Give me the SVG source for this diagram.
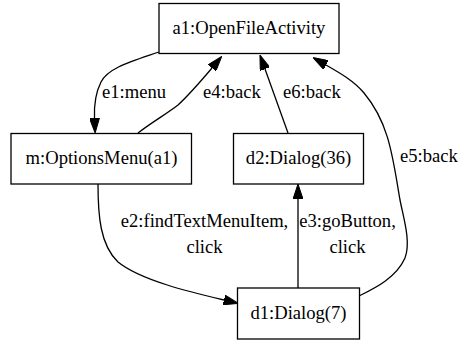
<svg xmlns="http://www.w3.org/2000/svg" width="461" height="343" viewBox="0 0 461 343" font-family="'Liberation Serif', 'DejaVu Serif', serif">
  <defs>
    <style>
      .node rect { fill: #fff; stroke: #000; stroke-width: 1.3; }
      text { font-family: 'Liberation Serif', 'DejaVu Serif', serif; font-size: 18.6px; fill: #000; }
      .node text { text-anchor: middle; }
      .edges path { fill: none; stroke: #000; stroke-width: 1.3; }
      .edges .mid { text-anchor: middle; }
    </style>
    <marker id="arrow" viewBox="0 -5 15 10" refX="0" refY="0" markerWidth="15" markerHeight="10" markerUnits="userSpaceOnUse" orient="auto">
      <path d="M0,-5 L15,0 L0,5 z" fill="#000" stroke="#000" stroke-width="1"/>
    </marker>
  </defs>
  <rect width="461" height="343" fill="#fff"/>

  <g class="edges">
    <!-- e1: a1 -> m -->
    <path d="M159,52 C130,62 108,68 101,82 C95,94 94,106 94.5,118" marker-end="url(#arrow)"/>
    <text x="102" y="98">e1:menu</text>
    <!-- e4: m -> a1 -->
    <path d="M138,133 C152,122 168,113 178,105 C190,94 201,81 212,68" marker-end="url(#arrow)"/>
    <text x="203" y="98">e4:back</text>
    <!-- e6: d2 -> a1 -->
    <path d="M288,133 L265,69" marker-end="url(#arrow)"/>
    <text x="283" y="98">e6:back</text>
    <!-- e5: d1 -> a1 -->
    <path d="M359,296 C375,288 396,278 405,258 C411,242 404,220 400,200 C393,160 390,124 364,93 C354,81 340,73 326,65" marker-end="url(#arrow)"/>
    <text x="400" y="162">e5:back</text>
    <!-- e2: m -> d1 -->
    <path d="M98,184 C98,215 100,245 118,262 C140,280 190,292 224,300" marker-end="url(#arrow)"/>
    <text class="mid" x="204.5" y="227">e2:findTextMenuItem,</text>
    <text class="mid" x="204.5" y="253">click</text>
    <!-- e3: d1 -> d2 -->
    <path d="M298,288 L298,199" marker-end="url(#arrow)"/>
    <text class="mid" x="347.5" y="227">e3:goButton,</text>
    <text class="mid" x="347.5" y="253">click</text>
  </g>

  <g id="a1" class="node">
    <rect x="159" y="3.5" width="180" height="50"/>
    <text x="249" y="34">a1:OpenFileActivity</text>
  </g>
  <g id="m" class="node">
    <rect x="11" y="133.5" width="180.5" height="50.5"/>
    <text x="101.5" y="164">m:OptionsMenu(a1)</text>
  </g>
  <g id="d2" class="node">
    <rect x="233.5" y="133.5" width="130" height="50.5"/>
    <text x="298.5" y="164">d2:Dialog(36)</text>
  </g>
  <g id="d1" class="node">
    <rect x="237.5" y="288" width="122" height="51"/>
    <text x="298.5" y="318.5">d1:Dialog(7)</text>
  </g>
</svg>
